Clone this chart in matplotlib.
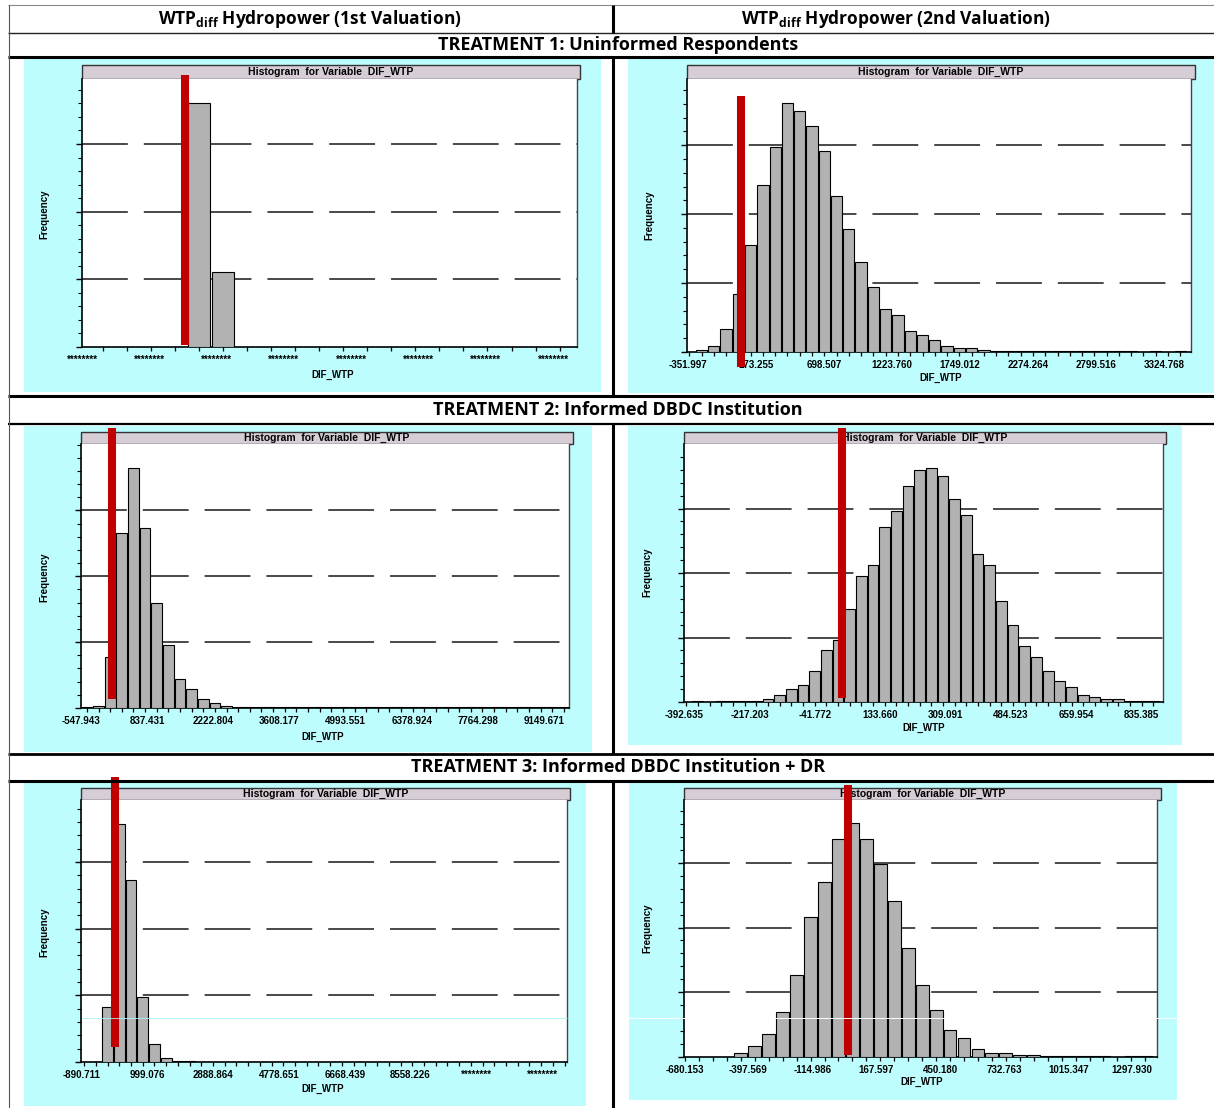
import numpy as np
import matplotlib
matplotlib.use("Agg")
import matplotlib.pyplot as plt
from matplotlib.patches import Rectangle
from matplotlib.lines import Line2D

plt.rcParams['lines.scale_dashes'] = False
plt.rcParams['mathtext.fontset'] = 'custom'
plt.rcParams['mathtext.bf'] = 'Open Sans:bold'
plt.rcParams['mathtext.rm'] = 'Open Sans:bold'

W, H = 1214, 1108

# ---------------- data ----------------
col_titles = [r'WTP$_{\mathbf{diff}}$ Hydropower (1st Valuation)',
              r'WTP$_{\mathbf{diff}}$ Hydropower (2nd Valuation)']
treatments = ["TREATMENT 1: Uninformed Respondents",
              "TREATMENT 2: Informed DBDC Institution",
              "TREATMENT 3: Informed DBDC Institution + DR"]

# treatment 1, 1st valuation (axis values hidden as ******** in the original)
t1a_heights = [3.60, 1.11]
t1a_start, t1a_width = 4.375, 1.0
t1a_red = 4.27
t1a_ticks = [0, 2.8, 5.6, 8.4, 11.2, 14.0, 16.8, 19.6]
t1a_labels = ["********"] * 8
t1a_xlim = (0, 20.6)

# treatment 1, 2nd valuation
t1b_heights = [0.034, 0.09, 0.33, 0.84, 1.55, 2.42, 2.98, 3.61, 3.49, 3.28,
               2.92, 2.27, 1.79, 1.31, 0.95, 0.63, 0.54, 0.31, 0.24, 0.18,
               0.09, 0.063, 0.063, 0.034, 0.015, 0.015, 0.015, 0.015, 0.015, 0.015,
               0.015, 0.015, 0.01, 0.01, 0.01, 0.01, 0.0, 0.01, 0.005, 0.01]
t1b_start, t1b_width = -293.2, 94.7
t1b_red = 56.8
t1b_ticks = [-351.997, 173.255, 698.507, 1223.760, 1749.012, 2274.264, 2799.516, 3324.768]
t1b_labels = ["-351.997", "173.255", "698.507", "1223.760", "1749.012", "2274.264", "2799.516", "3324.768"]
t1b_xlim = (-358, 3530)

# treatment 2, 1st valuation
t2a_heights = [0.015, 0.035, 0.78, 2.66, 3.65, 2.74, 1.59, 0.95, 0.44, 0.29,
               0.14, 0.076, 0.035, 0.015, 0.015, 0.008, 0.008, 0.008, 0.008, 0.008,
               0.008, 0.008, 0.008, 0.008, 0.008, 0.008, 0.008, 0.008, 0.008, 0.008,
               0.008, 0.008, 0.008, 0.008, 0.008, 0.008, 0.008, 0.008, 0.008, 0.008,
               0.008, 0.008]
t2a_start, t2a_width = -548.0, 243.7
t2a_red = 104
t2a_ticks = [-547.943, 837.431, 2222.804, 3608.177, 4993.551, 6378.924, 7764.298, 9149.671]
t2a_labels = ["-547.943", "837.431", "2222.804", "3608.177", "4993.551", "6378.924", "7764.298", "9149.671"]
t2a_xlim = (-550, 9672)

# treatment 2, 2nd valuation
t2b_heights = [0.008, 0.0, 0.008, 0.008, 0.02, 0.02, 0.047, 0.11, 0.20, 0.26,
               0.48, 0.81, 0.96, 1.44, 1.95, 2.13, 2.71, 2.96, 3.35, 3.60,
               3.63, 3.50, 3.15, 2.90, 2.29, 2.13, 1.57, 1.19, 0.87, 0.70,
               0.48, 0.33, 0.23, 0.11, 0.078, 0.047, 0.047, 0.016, 0.016, 0.016]
t2b_start, t2b_width = -372.5, 31.4
t2b_red = 32
t2b_ticks = [-392.635, -217.203, -41.772, 133.660, 309.091, 484.523, 659.954, 835.385]
t2b_labels = ["-392.635", "-217.203", "-41.772", "133.660", "309.091", "484.523", "659.954", "835.385"]
t2b_xlim = (-394, 894)

# treatment 3, 1st valuation
t3a_heights = [0.005, 0.83, 3.57, 2.73, 0.98, 0.27, 0.06, 0.01, 0.01, 0.004,
               0.004, 0.004, 0.004, 0.004, 0.004, 0.004, 0.004, 0.004, 0.004, 0.004,
               0.004, 0.004, 0.004, 0.004, 0.004, 0.004, 0.004, 0.004, 0.004, 0.004,
               0.004, 0.004, 0.004, 0.004, 0.004, 0.004, 0.004, 0.004, 0.004, 0.004]
t3a_start, t3a_width = -635.0, 336.0
t3a_red = 88
t3a_ticks = [-890.711, 999.076, 2888.864, 4778.651, 6668.439, 8558.226, 10448.013, 12337.801]
t3a_labels = ["-890.711", "999.076", "2888.864", "4778.651", "6668.439", "8558.226", "********", "********"]
t3a_xlim = (-893, 13043)

# treatment 3, 2nd valuation
t3b_heights = [0.005, 0.005, 0.005, 0.067, 0.165, 0.36, 0.70, 1.27, 2.16, 2.70,
               3.36, 3.62, 3.36, 2.98, 2.41, 1.69, 1.11, 0.73, 0.42, 0.29,
               0.13, 0.067, 0.067, 0.036, 0.036, 0.01, 0.01, 0.01, 0.01, 0.01,
               0.0, 0.01, 0.01]
t3b_start, t3b_width = -646.5, 61.6
t3b_red = 40.2
t3b_ticks = [-680.153, -397.569, -114.986, 167.597, 450.180, 732.763, 1015.347, 1297.930]
t3b_labels = ["-680.153", "-397.569", "-114.986", "167.597", "450.180", "732.763", "1015.347", "1297.930"]
t3b_xlim = (-682, 1407)

# ---------------- layout (pixels) ----------------
CYAN = '#bdfdfd'
BAR_BG = '#d6cdd6'
RED = '#c00000'
HFONT = 'Liberation Sans'

layouts = [
    dict(cyan=(24, 59, 601, 392), plot=(82, 79, 577, 347), bar=(82, 65, 580, 79),
         ytop=3.96, red_y=(0.03, 4.02), freq=(44, 214), xlab=(333, 375)),
    dict(cyan=(628, 59, 1214, 393), plot=(687, 79, 1191, 352), bar=(687, 65, 1195, 79),
         ytop=3.96, red_y=(-0.22, 3.71), freq=(649, 215), xlab=(941, 378)),
    dict(cyan=(24, 426, 592, 752), plot=(81, 444, 569, 708), bar=(81, 432, 573, 444),
         ytop=4.01, red_y=(0.14, 4.25), freq=(44, 577), xlab=(323, 737)),
    dict(cyan=(628, 426, 1182, 745), plot=(684, 444, 1163, 702), bar=(684, 432, 1166, 444),
         ytop=4.0, red_y=(0.06, 4.25), freq=(647, 572), xlab=(924, 728)),
    dict(cyan=(24, 782, 586, 1106), plot=(81, 800, 567, 1062), bar=(81, 788, 570, 800),
         ytop=3.93, red_y=(0.22, 4.27), freq=(44, 932), xlab=(323, 1089)),
    dict(cyan=(629, 782, 1177, 1100), plot=(684, 800, 1157, 1057), bar=(684, 788, 1161, 800),
         ytop=3.97, red_y=(0.03, 4.2), freq=(647, 928), xlab=(922, 1082)),
]

fig = plt.figure(figsize=(W / 100, H / 100), dpi=100)
fig.patch.set_facecolor('white')


def fx(x):
    return x / W


def fy(y):
    return 1 - y / H


def box(x0, y0, x1, y1, **kw):
    r = Rectangle((fx(x0), fy(y1)), (x1 - x0) / W, (y1 - y0) / H,
                  transform=fig.transFigure, **kw)
    fig.add_artist(r)
    return r


def hline(y, x0, x1, lw, color='black', z=8):
    fig.add_artist(Line2D([fx(x0), fx(x1)], [fy(y), fy(y)], transform=fig.transFigure,
                          lw=lw, color=color, zorder=z, solid_capstyle='butt'))


def vline(x, y0, y1, lw, color='black', z=8):
    fig.add_artist(Line2D([fx(x), fx(x)], [fy(y0), fy(y1)], transform=fig.transFigure,
                          lw=lw, color=color, zorder=z, solid_capstyle='butt'))


def draw_panel(heights, start, width, red_x, ticks, labels, xlim, lay):
    box(*lay['cyan'], fc=CYAN, ec='none', zorder=-3)
    tb = lay['bar']
    box(*tb, fc=BAR_BG, ec='#333333', lw=1.0, zorder=-2)
    fig.text(fx((tb[0] + tb[2]) / 2), fy((tb[1] + tb[3]) / 2), "Histogram  for Variable  DIF_WTP",
             ha='center', va='center', fontsize=7.5, fontweight='bold', family=HFONT, zorder=-1)

    p = lay['plot']
    ax = fig.add_axes([fx(p[0]), fy(p[3]), (p[2] - p[0]) / W, (p[3] - p[1]) / H])
    ax.set_facecolor('white')

    centers = start + width * (np.arange(len(heights)) + 0.5)
    ax.bar(centers, heights, width=width * 0.92, color='#b2b2b2', edgecolor='black',
           linewidth=0.8, zorder=3)
    for g in (1, 2, 3):
        ax.axhline(g, color='#3a3a3a', lw=1.3, dashes=(33, 11.5), zorder=1)

    ax.set_xlim(*xlim)
    ax.set_ylim(0, lay['ytop'])

    ax.set_xticks(ticks)
    ax.set_xticklabels(labels, fontsize=7, fontweight='bold', family=HFONT)
    minor = start + width * (np.arange(-60, 200) + 0.5)
    minor = minor[(minor > xlim[0]) & (minor < xlim[1])]
    ax.set_xticks(minor, minor=True)
    ax.tick_params(axis='x', which='major', length=0, pad=6)
    ax.tick_params(axis='x', which='minor', length=3.2, width=0.9, direction='out')

    ax.set_yticks([0, 1, 2, 3])
    ax.set_yticklabels([])
    ax.set_yticks(np.arange(0, lay['ytop'], 0.2), minor=True)
    ax.tick_params(axis='y', which='major', length=4.5, width=1.0)
    ax.tick_params(axis='y', which='minor', length=2.8, width=0.8)

    for s in ('left', 'bottom'):
        ax.spines[s].set_linewidth(1.2)
        ax.spines[s].set_color('black')
    ax.spines['right'].set_linewidth(1.0)
    ax.spines['right'].set_color('#444444')
    ax.spines['top'].set_visible(False)

    ax.plot([red_x, red_x], list(lay['red_y']), color=RED, lw=5.8,
            solid_capstyle='butt', clip_on=False, zorder=6)

    fig.text(fx(lay['freq'][0]), fy(lay['freq'][1]), "Frequency", rotation=90,
             ha='center', va='center', fontsize=7, fontweight='bold', family=HFONT)
    fig.text(fx(lay['xlab'][0]), fy(lay['xlab'][1]), "DIF_WTP",
             ha='center', va='center', fontsize=7, fontweight='bold', family=HFONT)
    return ax


panels = [
    (t1a_heights, t1a_start, t1a_width, t1a_red, t1a_ticks, t1a_labels, t1a_xlim),
    (t1b_heights, t1b_start, t1b_width, t1b_red, t1b_ticks, t1b_labels, t1b_xlim),
    (t2a_heights, t2a_start, t2a_width, t2a_red, t2a_ticks, t2a_labels, t2a_xlim),
    (t2b_heights, t2b_start, t2b_width, t2b_red, t2b_ticks, t2b_labels, t2b_xlim),
    (t3a_heights, t3a_start, t3a_width, t3a_red, t3a_ticks, t3a_labels, t3a_xlim),
    (t3b_heights, t3b_start, t3b_width, t3b_red, t3b_ticks, t3b_labels, t3b_xlim),
]
for args, lay in zip(panels, layouts):
    draw_panel(*args, lay)

# rendering streaks seen in the bottom row
hline(1018, 82, 567, 0.6, color='#a8f4f4', z=9)
hline(1018, 629, 1177, 0.7, color='white', z=9)

# table rules
hline(5, 8, 1214, 0.8, color='#8a8a8a')
hline(32.5, 8, 1214, 1.0, color='#222222')
hline(57, 8, 1214, 2.2)
hline(395.5, 8, 1214, 2.2)
hline(423.5, 8, 1214, 1.6)
hline(753.5, 8, 1214, 2.0)
hline(780.5, 8, 1214, 2.2)
vline(8.5, 5, 1108, 0.8, color='#555555')
for y0, y1 in [(5, 32.5), (57, 395.5), (423.5, 753.5), (780.5, 1108)]:
    vline(613, y0, y1, 2.2)

# header and treatment rows
fig.text(fx(310), fy(19), col_titles[0], ha='center', va='center', fontsize=12.5,
         fontweight='bold', family='Open Sans')
fig.text(fx(896), fy(19), col_titles[1], ha='center', va='center', fontsize=12.5,
         fontweight='bold', family='Open Sans')
for txt, y in zip(treatments, [45, 410, 767]):
    fig.text(fx(618), fy(y), txt, ha='center', va='center', fontsize=13,
             fontweight='bold', family='Open Sans')

fig.savefig("out.png", dpi=100)
